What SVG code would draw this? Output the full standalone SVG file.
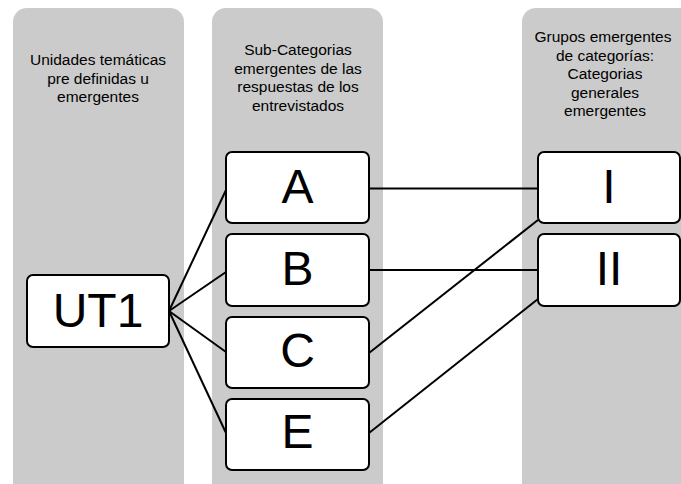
<svg xmlns="http://www.w3.org/2000/svg" width="681" height="484" viewBox="0 0 681 484">
<style>
.col{fill:#cbcbcb}
.hdr{font-family:"Liberation Sans",sans-serif;font-size:15.5px;fill:#000;text-anchor:middle}
.box{fill:#fff;stroke:#000;stroke-width:2}
.lbl{font-family:"Liberation Sans",sans-serif;font-size:48px;fill:#000;text-anchor:middle}
.conn{stroke:#000;stroke-width:2;fill:none}
</style>
<rect width="681" height="484" fill="#fff"/>
<g id="col1"><rect class="col" x="13" y="8" width="171" height="490" rx="14"/>
<text class="hdr"><tspan x="98" y="65">Unidades temáticas</tspan><tspan x="98" y="83.5">pre definidas u</tspan><tspan x="98" y="102">emergentes</tspan></text></g>
<g id="col2"><rect class="col" x="212" y="8" width="171" height="490" rx="14"/>
<text class="hdr"><tspan x="298" y="55">Sub-Categorias</tspan><tspan x="298" y="73.5">emergentes de las</tspan><tspan x="298" y="92">respuestas de los</tspan><tspan x="298" y="110.5">entrevistados</tspan></text></g>
<g id="col3"><rect class="col" x="522" y="8" width="180" height="490" rx="14"/>
<text class="hdr"><tspan x="603" y="42">Grupos emergentes</tspan><tspan x="605" y="60.5">de categorías:</tspan><tspan x="605" y="79">Categorias</tspan><tspan x="605" y="97.5">generales</tspan><tspan x="605" y="116">emergentes</tspan></text></g>
<g id="connectors">
<line class="conn" x1="169" y1="311" x2="226" y2="190"/>
<line class="conn" x1="169" y1="311" x2="226" y2="272"/>
<line class="conn" x1="169" y1="311" x2="226" y2="352"/>
<line class="conn" x1="169" y1="311" x2="226" y2="433"/>
<line class="conn" x1="369" y1="188.5" x2="538" y2="188.5"/>
<line class="conn" x1="369" y1="270" x2="538" y2="270"/>
<line class="conn" x1="369" y1="353" x2="538" y2="220"/>
<line class="conn" x1="369" y1="433" x2="538" y2="299"/>
</g>
<g id="UT1"><rect class="box" x="27" y="275" width="142" height="72" rx="6"/><text class="lbl" x="98" y="327">UT1</text></g>
<g id="A"><rect class="box" x="226" y="152" width="143" height="71" rx="6"/><text class="lbl" x="297.5" y="203">A</text></g>
<g id="B"><rect class="box" x="226" y="234" width="143" height="72" rx="6"/><text class="lbl" x="297.5" y="285">B</text></g>
<g id="C"><rect class="box" x="226" y="317" width="143" height="71" rx="6"/><text class="lbl" x="297.5" y="367">C</text></g>
<g id="E"><rect class="box" x="226" y="399" width="143" height="71" rx="6"/><text class="lbl" x="297.5" y="448">E</text></g>
<g id="I"><rect class="box" x="538" y="152" width="142" height="71" rx="6"/><text class="lbl" x="609" y="203">I</text></g>
<g id="II"><rect class="box" x="538" y="234" width="142" height="72" rx="6"/><text class="lbl" x="609" y="285">II</text></g>
</svg>
